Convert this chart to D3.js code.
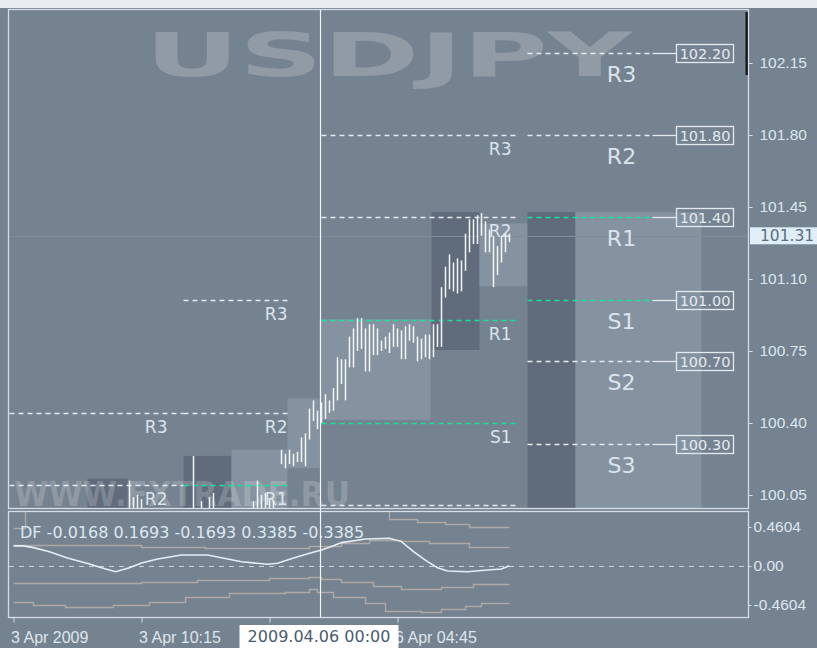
<!DOCTYPE html>
<html lang="en">
<head>
<meta charset="utf-8">
<title>USDJPY M15 pivots</title>
<script src="https://d3js.org/d3.v7.min.js"></script>
<style>
  body { margin: 0; background: #75828f; }
  svg { display: block; font-family: "DejaVu Sans", Verdana, sans-serif; }
  .axis text { fill: #dde7ef; font-size: 15.5px; }
  .axis line { stroke: #d5dee6; }
  .axis path { display: none; }
  .piv-small { fill: #dbe4ec; font-size: 17px; text-anchor: end; }
  .piv-big { fill: #dbe4ec; font-size: 22px; text-anchor: middle; }
</style>
</head>
<body>
<div id="vis"></div>
<script>
// ---- data ----
// price bars (15 min), index 0 = first bar on screen
const barIdx = [29, 30, 31, 32, 45, 47, 49, 50, 60, 61, 62, 63, 64, 65,
  67, 68, 69, 70, 71, 72, 73, 74, 75, 76, 77, 78, 79, 80, 81, 82, 83, 84, 85, 86, 87, 88, 89,
  90, 91, 92, 93, 94, 95, 96, 97, 98, 99, 100, 101, 102, 103, 104, 105, 106, 107, 108, 109,
  110, 111, 112, 113, 114, 115, 116, 117, 118, 119, 120, 121, 122, 123, 124];
const barHi = [100.12, 100.04, 100.05, 100.03, 100.24, 100.02, 100.04, 100.06, 100.02, 100.12, 100.05, 100.06, 100.03, 100.02,
  100.27, 100.25, 100.27, 100.25, 100.26, 100.33, 100.35, 100.47, 100.51, 100.46, 100.50, 100.54, 100.51, 100.57, 100.72, 100.71, 100.71, 100.82, 100.86, 100.91, 100.91, 100.86, 100.88,
  100.88, 100.86, 100.80, 100.82, 100.84, 100.88, 100.86, 100.85, 100.87, 100.88, 100.87, 100.82, 100.81, 100.83, 100.83, 100.88, 100.88, 101.06, 101.16, 101.22,
  101.18, 101.20, 101.19, 101.32, 101.39, 101.39, 101.41, 101.42, 101.38, 101.34, 101.31, 101.26, 101.31, 101.32, 101.32];
const barLo = [99.95, 99.95, 99.95, 99.95, 99.95, 99.95, 99.95, 99.95, 99.95, 99.95, 99.95, 99.95, 99.95, 99.95,
  100.20, 100.18, 100.20, 100.19, 100.21, 100.21, 100.19, 100.32, 100.41, 100.37, 100.40, 100.42, 100.45, 100.46, 100.51, 100.59, 100.51, 100.67, 100.67, 100.75, 100.76, 100.65, 100.65,
  100.73, 100.73, 100.75, 100.76, 100.74, 100.77, 100.77, 100.71, 100.71, 100.80, 100.79, 100.70, 100.71, 100.72, 100.71, 100.72, 100.77, 100.77, 101.01, 101.05,
  101.04, 101.03, 101.04, 101.14, 101.23, 101.27, 101.27, 101.31, 101.23, 101.23, 101.06, 101.12, 101.18, 101.23, 101.28];
const lastPrice = 101.31;

// session range boxes
const zoneFrom = [19, 43, 55, 69, 77, 105, 117, 129, 141];
const zoneTo   = [29, 55, 69, 77, 104.75, 117, 129, 141, 172.5];
const zoneHi   = [100.13, 100.24, 100.27, 100.52, 100.905, 101.425, 101.37, 101.425, 101.425];
const zoneLo   = [99.9, 99.9, 99.9, 100.18, 100.415, 100.755, 101.065, 99.9, 99.9];
const zoneDark = [true, true, false, false, false, true, false, true, false];

// pivot levels by period
const pivNames = ["R3", "R2", "R1", "S1", "S2", "S3"];
const periodFrom = [-1, 42.5, 77, 128.5];
const periodTo = [42.5, 68.5, 126.5, 159.75];
const periodLabelAt = [38.5, 68.5, 124.5, 152];
const pivA = [100.45, 100.10, null, null, null, null];
const pivB = [101.00, 100.45, 100.10, null, null, null];
const pivC = [101.80, 101.40, 100.90, 100.40, 100.00, null];
const pivD = [102.20, 101.80, 101.40, 101.00, 100.70, 100.30];
const pivots = [pivA, pivB, pivC, pivD];

// axis ticks
const priceTicks = [100.05, 100.40, 100.75, 101.10, 101.45, 101.80, 102.15];
const dfTicks = [0.4604, 0, -0.4604];
const timeTickIdx = [0, 32, 64, 96];
const timeLabels = ["3 Apr 2009", "3 Apr 10:15", "3 Apr 18:15", "6 Apr 04:45"];
const crossIdx = 77;
const crossLabel = "2009.04.06 00:00";

// DF indicator (main line + bands)
const dfIdx = [0, 2.5, 5, 9, 13.5, 19, 22, 25.5, 29, 32, 36, 42, 48.5, 52, 57, 63.5, 66, 70, 74, 77, 80, 82, 88, 94, 97, 100, 103.5, 106, 108.5, 113.5, 118.5, 122, 124];
const dfVal = [0.237, 0.237, 0.217, 0.169, 0.095, 0.024, -0.020, -0.067, -0.020, 0.036, 0.083, 0.130, 0.130, 0.098, 0.051, 0.020, 0.032, 0.095, 0.150, 0.189, 0.240, 0.276, 0.318, 0.328, 0.288, 0.169, 0.051, -0.020, -0.059, -0.067, -0.047, -0.036, 0.004];
const upInIdx = [0, 32, 48, 74, 82, 89, 97, 104, 114, 124];
const upInVal = [0.243, 0.225, 0.207, 0.237, 0.272, 0.308, 0.290, 0.266, 0.225, 0.225];
const loInIdx = [0, 32, 46, 64, 74, 77, 82, 90, 97, 107, 115, 124];
const loInVal = [-0.201, -0.186, -0.160, -0.142, -0.127, -0.154, -0.189, -0.231, -0.266, -0.243, -0.217, -0.217];
const upOutIdx = [0, 3, 94, 101, 108, 114, 124];
const upOutVal = [0.450, 0.66, 0.550, 0.521, 0.491, 0.462, 0.462];
const loOutIdx = [0, 5, 13, 25, 34, 43, 54, 68, 74, 76, 80, 88, 93, 102, 107, 113, 117, 124];
const loOutVal = [-0.422, -0.462, -0.482, -0.462, -0.422, -0.367, -0.323, -0.304, -0.266, -0.308, -0.363, -0.441, -0.533, -0.541, -0.509, -0.473, -0.441, -0.441];
const dfText = "DF -0.0168 0.1693 -0.1693 0.3385 -0.3385";

// ---- layout ----
const width = 817, height = 648;
const main = {left: 9, right: 748, top: 10, bottom: 508};
const ind = {top: 512, bottom: 617};
const green = "#16e39b", pale = "#e3eaf0";

const x = d3.scaleLinear().domain([0, 184]).range([13.5, 749.5]);
const y = d3.scaleLinear().domain([100.05, 102.15]).range([495, 63]);
const yi = d3.scaleLinear().domain([-0.4604, 0.4604]).range([605, 527]);

const svg = d3.select("#vis").append("svg")
  .attr("width", width).attr("height", height);

svg.append("rect").attr("width", width).attr("height", height).attr("fill", "#75828f");
svg.append("rect").attr("width", width).attr("height", 8).attr("fill", "#e7ecf0");

const defs = svg.append("defs");
defs.append("clipPath").attr("id", "clipMain").append("rect")
  .attr("x", main.left).attr("y", main.top)
  .attr("width", main.right - main.left).attr("height", main.bottom - main.top);
defs.append("clipPath").attr("id", "clipInd").append("rect")
  .attr("x", main.left).attr("y", ind.top)
  .attr("width", main.right - main.left).attr("height", ind.bottom - ind.top);

const g = svg.append("g").attr("clip-path", "url(#clipMain)");

// session boxes
g.selectAll(".zone").data(zoneFrom).join("rect")
  .attr("class", "zone")
  .attr("x", (d, i) => x(d) - 2)
  .attr("width", (d, i) => x(zoneTo[i]) - x(d))
  .attr("y", (d, i) => y(zoneHi[i]))
  .attr("height", (d, i) => y(zoneLo[i]) - y(zoneHi[i]))
  .attr("fill", (d, i) => zoneDark[i] ? "#606c7c" : "#8593a0");

// watermarks
g.append("text").attr("x", 145).attr("y", 76)
  .attr("font-size", 60).attr("font-weight", "bold")
  .attr("textLength", 487).attr("lengthAdjust", "spacingAndGlyphs")
  .attr("fill", "#ffffff").attr("fill-opacity", 0.2)
  .text("USDJPY");
g.append("text").attr("x", 14).attr("y", 506)
  .attr("font-size", 34).attr("font-weight", "bold")
  .attr("textLength", 336).attr("lengthAdjust", "spacingAndGlyphs")
  .attr("fill", "#ffffff").attr("fill-opacity", 0.19)
  .text("WWW.FXTRADE.RU");

// last price line
g.append("line")
  .attr("x1", main.left).attr("x2", main.right)
  .attr("y1", Math.round(y(lastPrice)) + 0.5).attr("y2", Math.round(y(lastPrice)) + 0.5)
  .attr("stroke", "#808d99");

// pivot lines
pivots.forEach((levels, p) => {
  levels.forEach((v, k) => {
    if (v === null) return;
    const yy = Math.round(y(v)) + 0.5;
    const col = (k === 2 || k === 3) ? green : pale;
    g.append("line")
      .attr("x1", x(periodFrom[p])).attr("x2", x(periodTo[p]))
      .attr("y1", yy).attr("y2", yy)
      .attr("stroke", col).attr("stroke-width", 1.3)
      .attr("stroke-dasharray", "5,4");
    if (p < 3) {
      g.append("text").attr("class", "piv-small")
        .attr("x", x(periodLabelAt[p])).attr("y", yy + 19)
        .text(pivNames[k]);
    } else {
      g.append("line")
        .attr("x1", x(periodTo[p])).attr("x2", 676)
        .attr("y1", yy).attr("y2", yy)
        .attr("stroke", pale).attr("stroke-width", 1.3);
      g.append("text").attr("class", "piv-big")
        .attr("x", x(periodLabelAt[p])).attr("y", yy + 28)
        .text(pivNames[k]);
      g.append("rect")
        .attr("x", 676.5).attr("y", yy - 9).attr("width", 57).attr("height", 18)
        .attr("fill", "none").attr("stroke", pale).attr("stroke-width", 1.3);
      g.append("text")
        .attr("x", 705).attr("y", yy + 5).attr("text-anchor", "middle")
        .attr("font-size", 14.5).attr("fill", pale)
        .text(v.toFixed(2));
    }
  });
});

// price bars
g.selectAll(".bar").data(barIdx).join("line")
  .attr("class", "bar")
  .attr("x1", d => x(d)).attr("x2", d => x(d))
  .attr("y1", (d, i) => y(barHi[i])).attr("y2", (d, i) => y(barLo[i]))
  .attr("stroke", "#f1f5f8").attr("stroke-width", 1.5);

// scroll marker
svg.append("rect").attr("x", 745.5).attr("y", 12).attr("width", 3).attr("height", 63).attr("fill", "#141414");

// indicator window
const gi = svg.append("g").attr("clip-path", "url(#clipInd)");
gi.append("line").attr("x1", main.left).attr("x2", main.right)
  .attr("y1", yi(0) + 0.5).attr("y2", yi(0) + 0.5)
  .attr("stroke", "#c9d1d9").attr("stroke-dasharray", "5,5");

const stepLine = d3.line().x(d => x(d[0])).y(d => Math.round(yi(d[1])) + 0.5).curve(d3.curveStepAfter);
[[upOutIdx, upOutVal], [upInIdx, upInVal], [loInIdx, loInVal], [loOutIdx, loOutVal]].forEach(([ix, vals]) => {
  gi.append("path")
    .attr("d", stepLine(ix.map((d, i) => [d, vals[i]])))
    .attr("fill", "none").attr("stroke", "#aea9a7").attr("stroke-width", 1.4);
});
const dfLine = d3.line().x(d => x(d[0])).y(d => yi(d[1]));
gi.append("path")
  .attr("d", dfLine(dfIdx.map((d, i) => [d, dfVal[i]])))
  .attr("fill", "none").attr("stroke", "#e6eef5").attr("stroke-width", 1.6);

gi.append("text").attr("x", 20).attr("y", 538)
  .attr("font-size", 16).attr("fill", "#dce8f2")
  .text(dfText);

// crosshair line
svg.append("line")
  .attr("x1", x(crossIdx) - 1).attr("x2", x(crossIdx) - 1)
  .attr("y1", main.top).attr("y2", ind.bottom)
  .attr("stroke", "#f2f6f9").attr("stroke-width", 1.2);

// frames
svg.append("rect").attr("x", main.left - 0.5).attr("y", main.top - 0.5)
  .attr("width", main.right - main.left + 1).attr("height", main.bottom - main.top + 1)
  .attr("fill", "none").attr("stroke", "#d5dee6").attr("stroke-width", 1.3);
svg.append("rect").attr("x", main.left - 0.5).attr("y", ind.top - 0.5)
  .attr("width", main.right - main.left + 1).attr("height", ind.bottom - ind.top + 1)
  .attr("fill", "none").attr("stroke", "#d5dee6").attr("stroke-width", 1.3);

// price axis
svg.append("g").attr("class", "axis")
  .attr("transform", `translate(${main.right + 0.5},0)`)
  .call(d3.axisRight(y).tickValues(priceTicks).tickSize(4).tickPadding(7).tickFormat(d => d.toFixed(2)));

// last price tag
const lp = svg.append("g").attr("transform", `translate(750,${y(lastPrice)})`);
lp.append("rect").attr("x", 0).attr("y", -8.5).attr("width", 67).attr("height", 17).attr("fill", "#dfeef7");
lp.append("text").attr("x", 10).attr("y", 5.5).attr("font-size", 15.5).attr("fill", "#5b6e80").text(lastPrice.toFixed(2));

// indicator axis
svg.append("g").attr("class", "axis")
  .attr("transform", `translate(${main.right + 0.5},0)`)
  .call(d3.axisRight(yi).tickValues(dfTicks).tickSize(3).tickPadding(2)
    .tickFormat(d => d === 0 ? "0.00" : d.toFixed(4)));

// time axis
const xa = svg.append("g").attr("class", "axis")
  .attr("transform", `translate(0,${ind.bottom + 0.5})`)
  .call(d3.axisBottom(x).tickValues(timeTickIdx).tickSize(5).tickPadding(9)
    .tickFormat((d, i) => timeLabels[i]));
xa.selectAll("text").attr("text-anchor", "start").attr("x", -3).style("font-size", "16px");

// crosshair time tag
const cx = x(crossIdx) - 1;
svg.append("rect").attr("x", cx - 81).attr("y", 625).attr("width", 159).attr("height", 23).attr("fill", "#ffffff");
svg.append("text").attr("x", cx - 1.5).attr("y", 642).attr("text-anchor", "middle")
  .attr("font-size", 16).attr("fill", "#4a5b6c").text(crossLabel);
</script>
</body>
</html>
